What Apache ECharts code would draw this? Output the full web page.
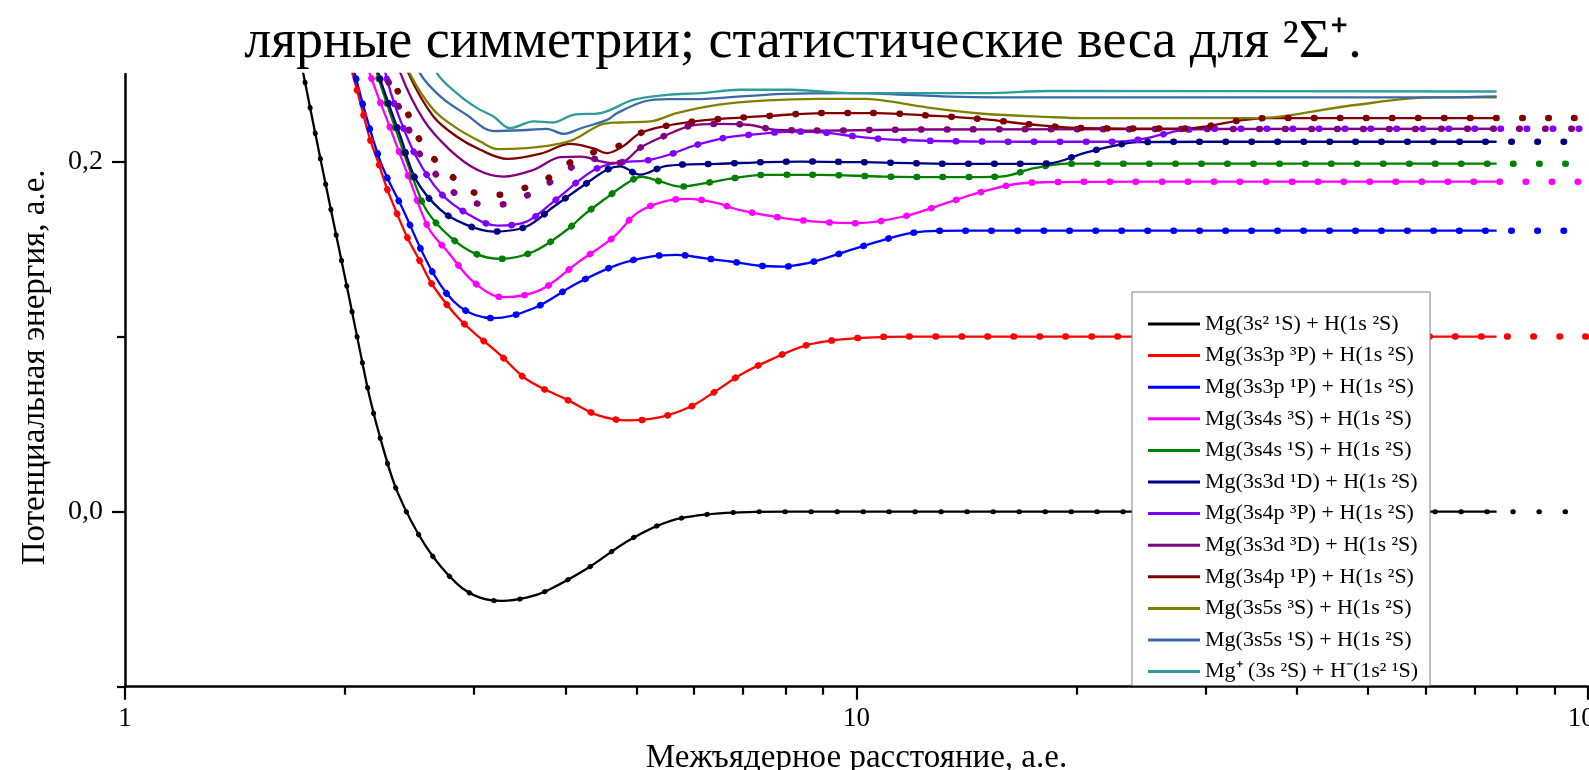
<!DOCTYPE html>
<html><head><meta charset="utf-8">
<script src="https://cdn.jsdelivr.net/npm/echarts@6/dist/echarts.min.js"></script>
<style>html,body{margin:0;padding:0;background:#fff}#c{width:1589px;height:770px}</style>
</head><body><div id="c"></div>
<script>
const FONT = '"Liberation Serif","Times New Roman",serif';
const titleText = 'лярные симметрии; статистические веса для ²Σ⁺.';
const xName = 'Межъядерное расстояние, а.е.';
const yName = 'Потенциальная энергия, а.е.';
const xMajorTicks = [1, 10, 100];
const xMinorTicks = [2, 3, 4, 5, 6, 7, 8, 9, 20, 30, 40, 50, 60, 70, 80, 90];
const yMajorTicks = [0, 0.2];
const yMinorTicks = [-0.1, 0.1];

const names = [
  'Mg(3s² ¹S) + H(1s ²S)',
  'Mg(3s3p ³P) + H(1s ²S)',
  'Mg(3s3p ¹P) + H(1s ²S)',
  'Mg(3s4s ³S) + H(1s ²S)',
  'Mg(3s4s ¹S) + H(1s ²S)',
  'Mg(3s3d ¹D) + H(1s ²S)',
  'Mg(3s4p ³P) + H(1s ²S)',
  'Mg(3s3d ³D) + H(1s ²S)',
  'Mg(3s4p ¹P) + H(1s ²S)',
  'Mg(3s5s ³S) + H(1s ²S)',
  'Mg(3s5s ¹S) + H(1s ²S)',
  'Mg⁺ (3s ²S) + H⁻(1s² ¹S)'
];
const colors = ['#000000','#ff0000','#0000ff','#ff00ff','#008000','#000080','#8000ff','#800080','#800000','#808000','#3a6aa6','#2e9c9c'];

// solid curves [R, E]
const s3s2_1S = [[1.735,0.26],[1.752,0.2507],[1.851,0.201],[1.950,0.1553],[2.028,0.121],[2.094,0.0924],[2.164,0.064],[2.243,0.0393],[2.36,0.0107],[2.58,-0.02],[2.84,-0.041],[3.05,-0.049],[3.28,-0.051],[3.55,-0.049],[3.78,-0.045],[4.3,-0.032],[4.9,-0.016],[5.6,-0.005],[6.5,-0.001],[8,0],[15,0],[30,0],[75,0]];
const s3s3p_3P = [[2.031,0.2552],[2.075,0.241],[2.118,0.2267],[2.164,0.2124],[2.221,0.1991],[2.28,0.1848],[2.353,0.1705],[2.429,0.1571],[2.533,0.1427],[2.641,0.1286],[2.873,0.1095],[3.258,0.0895],[3.547,0.0753],[4.031,0.0637],[4.436,0.055],[4.88,0.0521],[5.372,0.0538],[5.909,0.0596],[6.302,0.0666],[6.934,0.0781],[7.627,0.0867],[8.58,0.0953],[10.0,0.0991],[12.0,0.1],[75,0.1]];
const s3s3p_1P = [[2.04,0.262],[2.06,0.2505],[2.23,0.201],[2.4,0.1724],[2.64,0.136],[2.87,0.117],[3.19,0.1105],[3.62,0.1162],[4.15,0.1305],[4.71,0.141],[5.23,0.1457],[5.68,0.1467],[6.18,0.1448],[6.73,0.1429],[7.32,0.1406],[7.95,0.14],[8.58,0.142],[9.21,0.1457],[10.0,0.1505],[10.9,0.1553],[11.86,0.1591],[12.9,0.1604],[16,0.1605],[75,0.1605]];
const s3s4s_3S = [[2.13,0.262],[2.16,0.2505],[2.3,0.22],[2.46,0.1877],[2.6,0.162],[2.76,0.1486],[3.0,0.131],[3.29,0.1225],[3.70,0.1267],[4.15,0.142],[4.66,0.157],[5.01,0.1705],[5.45,0.1771],[5.9,0.1787],[6.45,0.1762],[6.9,0.1724],[7.95,0.1677],[9.02,0.1654],[10.0,0.1648],[11.6,0.1686],[13.45,0.1771],[14.9,0.1829],[16.6,0.1873],[18.4,0.1882],[25,0.1885],[75,0.1885]];
const s3s4s_1S = [[2.18,0.262],[2.21,0.2505],[2.38,0.2105],[2.5,0.1857],[2.59,0.1714],[2.78,0.1571],[3.0,0.1477],[3.26,0.1444],[3.62,0.1486],[4.02,0.161],[4.24,0.1695],[4.51,0.178],[4.86,0.1877],[5.08,0.1913],[5.4,0.1885],[5.74,0.1857],[6.18,0.1875],[6.8,0.1905],[7.5,0.1924],[8.84,0.1924],[10.9,0.1914],[13.45,0.1911],[15.74,0.1914],[17.5,0.1962],[19.4,0.1988],[25,0.1988],[75,0.1988]];
const s3s3d_1D = [[2.2,0.262],[2.22,0.2505],[2.38,0.2143],[2.5,0.1895],[2.70,0.1724],[2.93,0.1638],[3.19,0.16],[3.54,0.1629],[3.85,0.174],[4.28,0.1877],[4.56,0.1953],[4.75,0.1972],[5.06,0.1925],[5.5,0.1975],[6.45,0.1987],[8.38,0.2],[10.9,0.1994],[13.45,0.1987],[17.5,0.1987],[18.4,0.199],[20.46,0.2048],[22.3,0.2086],[24.2,0.2111],[30,0.2113],[75,0.2113]];
const s3s4p_3P = [[2.25,0.262],[2.27,0.2505],[2.35,0.2296],[2.5,0.2029],[2.70,0.182],[2.93,0.1705],[3.23,0.1634],[3.54,0.1657],[3.85,0.177],[4.37,0.195],[4.74,0.1994],[5.17,0.2006],[5.6,0.2045],[5.99,0.209],[6.58,0.2134],[7.16,0.2153],[8.21,0.2171],[9.02,0.2166],[9.81,0.2147],[10.9,0.2128],[12.1,0.212],[14.9,0.2114],[20,0.2113],[22.3,0.2113],[24.2,0.2124],[26.1,0.2153],[28,0.2181],[32,0.2187],[75,0.2187]];
const s3s3d_3D = [[2.36,0.262],[2.38,0.2505],[2.56,0.2238],[2.78,0.2067],[3.03,0.1953],[3.29,0.1914],[3.62,0.1953],[3.94,0.2025],[4.2,0.2028],[4.56,0.1994],[4.74,0.1992],[5.08,0.2083],[5.51,0.2153],[5.93,0.2204],[6.45,0.2215],[7.1,0.221],[7.79,0.2181],[9,0.2177],[12,0.2183],[75,0.2187]];
const s3s4p_1P = [[2.41,0.262],[2.44,0.2505],[2.64,0.2257],[2.84,0.2143],[3.06,0.2067],[3.33,0.2015],[3.70,0.2045],[4.06,0.2101],[4.37,0.2075],[4.56,0.2048],[4.79,0.2086],[5.06,0.2162],[5.51,0.2205],[6.0,0.2229],[6.45,0.2242],[7.63,0.2261],[9.02,0.2277],[10.67,0.2277],[12.5,0.2263],[14.9,0.2242],[17.5,0.221],[20.46,0.2191],[28,0.2188],[33.5,0.2235],[36.5,0.2248],[75,0.2248]];
const s3s5s_3S = [[2.42,0.262],[2.45,0.2505],[2.64,0.2296],[2.84,0.2191],[3.06,0.2114],[3.23,0.2071],[3.54,0.2077],[3.85,0.2095],[4.1,0.2124],[4.47,0.221],[4.74,0.2223],[5.23,0.2229],[5.68,0.2277],[6.45,0.2324],[7.55,0.2349],[8.84,0.2358],[10.3,0.2358],[11.1,0.2343],[12.7,0.2305],[14.9,0.2273],[18.4,0.2254],[20.5,0.2248],[35.3,0.2248],[47.4,0.232],[61.6,0.2366],[75,0.2366]];
const s3s5s_1S = [[2.5,0.262],[2.53,0.2505],[2.70,0.2371],[2.93,0.2267],[3.19,0.2174],[3.54,0.218],[3.77,0.2187],[3.98,0.2158],[4.2,0.219],[4.56,0.2238],[4.71,0.2277],[5.12,0.2343],[5.51,0.2357],[6.13,0.2357],[6.45,0.2362],[7.95,0.2387],[9.81,0.2391],[13.45,0.2371],[19,0.2366],[60,0.2366],[75,0.2372]];
const sIonic = [[2.64,0.262],[2.67,0.2505],[2.84,0.2391],[3.03,0.2305],[3.19,0.2257],[3.36,0.2191],[3.62,0.2229],[3.85,0.2223],[4.10,0.2267],[4.47,0.2277],[4.96,0.2353],[5.51,0.2381],[6.13,0.2391],[6.93,0.241],[8.12,0.241],[9.81,0.2391],[14.9,0.2391],[18.4,0.2403],[75,0.24]];

// dotted curves that differ from the solid ones
const d3s3d_3D = [[2.26,0.26],[2.28,0.2486],[2.35,0.2343],[2.43,0.221],[2.5,0.2077],[2.63,0.1953],[2.77,0.1848],[2.98,0.1766],[3.24,0.1753],[3.49,0.1794],[3.73,0.1857],[4.0,0.1943],[4.32,0.202],[4.56,0.1994],[4.74,0.1992],[5.08,0.2083],[5.51,0.2153],[5.93,0.2204],[6.45,0.2215],[7.1,0.221],[7.79,0.2181],[9,0.2177],[12,0.2183],[100,0.2187]];
const d3s4p_1P = [[2.33,0.255],[2.36,0.24],[2.44,0.2267],[2.52,0.2134],[2.64,0.2019],[2.80,0.1914],[3.0,0.1823],[3.25,0.181],[3.51,0.1848],[3.77,0.19],[4.08,0.2],[4.44,0.2063],[4.74,0.209],[5.06,0.2162],[5.51,0.2205],[6.0,0.2229],[6.45,0.2242],[7.63,0.2261],[9.02,0.2277],[10.67,0.2277],[12.5,0.2263],[14.9,0.2242],[17.5,0.221],[20.46,0.2191],[28,0.2188],[33.5,0.2235],[36.5,0.2248],[100,0.2248]];
// asymptotic values where the dotted curves continue to R = 100
const dotTailR = 100;
const dotTails = [0, 0.1, 0.1605, 0.1885, 0.1988, 0.2113, 0.2187];

const solid = [s3s2_1S, s3s3p_3P, s3s3p_1P, s3s4s_3S, s3s4s_1S, s3s3d_1D, s3s4p_3P, s3s3d_3D, s3s4p_1P, s3s5s_3S, s3s5s_1S, sIonic];
const dotted = [];
dotTails.forEach((t, i) => dotted.push({c: i, data: solid[i].concat([[dotTailR, t]])}));
dotted.push({c: 7, data: d3s3d_3D});
dotted.push({c: 8, data: d3s4p_1P});

const series = [];
solid.forEach((d, i) => series.push({
  name: names[i], type: 'line', data: d, smooth: 0.35, symbol: 'none', showSymbol: false,
  xAxisIndex: 0, yAxisIndex: 0, z: 2, silent: true,
  lineStyle: {color: colors[i], width: 2.3}, itemStyle: {color: colors[i]}
}));
dotted.forEach(d => series.push({
  type: 'line', data: d.data, smooth: 0.35, symbol: 'none', showSymbol: false,
  xAxisIndex: 0, yAxisIndex: 0, z: 3, silent: true,
  lineStyle: {color: colors[d.c], width: d.c === 0 ? 5 : 6.5, type: [0.5, 25.5], cap: 'round'}
}));

const chart = echarts.init(document.getElementById('c'), null, {renderer: 'canvas'});
const tickStyle = {color: '#000', width: 2.2};
chart.setOption({
  animation: false,
  backgroundColor: '#fff',
  grid: {left: 125, right: 1, top: 74, bottom: 83.3, containLabel: false, outerBoundsMode: 'none'},
  graphic: [{
    type: 'text', x: 803, y: 43, silent: true,
    style: {text: titleText, fontSize: 54, fontFamily: FONT, fill: '#000', align: 'center', verticalAlign: 'middle'}
  }],
  legend: {
    data: names, orient: 'vertical', left: 1132, top: 292,
    backgroundColor: '#fff', borderColor: '#808080', borderWidth: 1,
    padding: [21, 12, 3, 16], itemGap: 9.6, itemWidth: 52, itemHeight: 3, icon: 'rect',
    selectedMode: false,
    textStyle: {fontFamily: FONT, fontSize: 22, color: '#000', lineHeight: 22}
  },
  xAxis: [{
    type: 'log', logBase: 10, min: 1, max: 100, position: 'bottom',
    axisLine: {show: true, onZero: false, lineStyle: {color: '#000', width: 2.5}},
    axisTick: {show: true, length: 8, lineStyle: tickStyle, customValues: xMinorTicks},
    axisLabel: {show: false}, splitLine: {show: false}, minorTick: {show: false}
  }, {
    type: 'log', logBase: 10, min: 1, max: 100, position: 'bottom',
    axisLine: {show: false, onZero: false},
    axisTick: {show: true, length: 13, lineStyle: tickStyle, customValues: xMajorTicks},
    axisLabel: {show: true, customValues: xMajorTicks, fontFamily: FONT, fontSize: 27, color: '#000', margin: 19, formatter: v => String(v)},
    splitLine: {show: false},
    name: xName, nameLocation: 'middle', nameGap: 55,
    nameTextStyle: {fontFamily: FONT, fontSize: 33, color: '#000'}
  }],
  yAxis: [{
    type: 'value', min: -0.1, max: 0.25, position: 'left',
    axisLine: {show: true, onZero: false, lineStyle: {color: '#000', width: 2.5}},
    axisTick: {show: true, length: 8, lineStyle: tickStyle, customValues: yMinorTicks},
    axisLabel: {show: false}, splitLine: {show: false}
  }, {
    type: 'value', min: -0.1, max: 0.25, position: 'left',
    axisLine: {show: false, onZero: false},
    axisTick: {show: true, length: 13, lineStyle: tickStyle, customValues: yMajorTicks},
    axisLabel: {show: true, customValues: yMajorTicks, fontFamily: FONT, fontSize: 28, color: '#000', margin: 22,
      formatter: v => Number(v).toFixed(1).replace('.', ',')},
    splitLine: {show: false},
    name: yName, nameLocation: 'middle', nameGap: 73, nameRotate: 90,
    nameTextStyle: {fontFamily: FONT, fontSize: 33, color: '#000', padding: [0, 0, 0, 26]}
  }],
  series: series
});
</script></body></html>
